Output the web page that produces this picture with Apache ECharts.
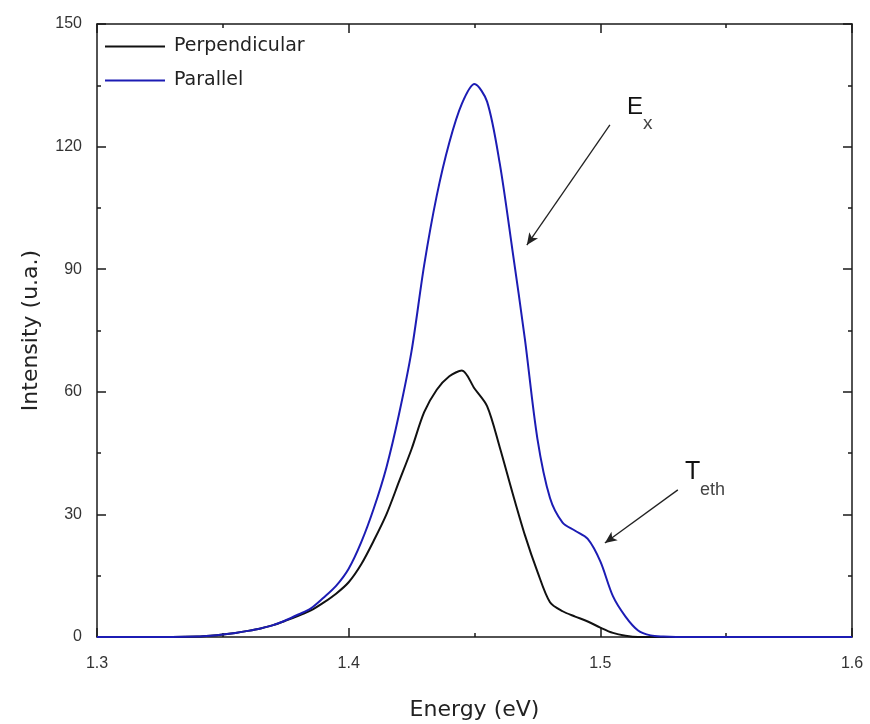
<!DOCTYPE html>
<html>
<head>
<meta charset="utf-8">
<title>Intensity vs Energy</title>
<script src="https://cdn.jsdelivr.net/npm/echarts@6/dist/echarts.min.js"></script>
<style>
  html, body { margin: 0; padding: 0; background: #fff; }
  #chart { width: 870px; height: 724px; }
</style>
</head>
<body>
<div id="chart"></div>
<script>
// energy (eV) sample points
var energy = [1.30, 1.31, 1.32, 1.33, 1.34,
    1.345, 1.35, 1.355, 1.36, 1.365, 1.37, 1.375, 1.38, 1.385, 1.39, 1.395,
    1.40, 1.405, 1.41, 1.415, 1.42, 1.425, 1.43, 1.435, 1.44, 1.445,
    1.45, 1.455, 1.46, 1.465, 1.47, 1.475, 1.48, 1.485, 1.49, 1.495,
    1.50, 1.505, 1.51, 1.515, 1.52, 1.525,
    1.53, 1.54, 1.56, 1.58, 1.60];

var perpendicular = [0, 0, 0, 0, 0.1,
    0.3, 0.6, 1.0, 1.5, 2.1, 2.9, 4.0, 5.2, 6.5, 8.4, 10.6,
    13.4, 17.8, 23.6, 30, 38, 46, 55, 60.5, 63.8, 65.2,
    60.8, 56.5, 46.5, 35.5, 25, 16, 8.5, 6.3, 5.0, 3.8,
    2.3, 1.0, 0.3, 0, 0, 0,
    0, 0, 0, 0, 0];

var parallel = [0, 0, 0, 0, 0.1,
    0.3, 0.6, 1.0, 1.5, 2.1, 2.9, 4.1, 5.5, 7.0, 9.6, 12.5,
    16.7, 23.2, 31.5, 41.5, 54.5, 70, 91, 108, 121, 130.5,
    135.3, 131, 116, 95, 73, 48.5, 34, 28, 26, 24,
    18.5, 10, 5, 1.6, 0.4, 0.1,
    0, 0, 0, 0, 0];

var seriesNames = ['Perpendicular', 'Parallel'];
var xTicks = [1.3, 1.4, 1.5, 1.6];
var yTicks = [0, 30, 60, 90, 120, 150];

// arrows: [from, to] in data coordinates
var arrowEx = [[1.5038, 125.3], [1.4708, 95.9]];
var arrowTeth = [[1.5308, 36], [1.5018, 23]];
// label anchors (top-left of the big letter), data coordinates
var labelEx = [1.5106, 132.5];
var labelTeth = [1.5336, 43.5];

function pairs(xs, ys) {
    var out = [];
    for (var i = 0; i < xs.length; i++) out.push([xs[i], ys[i]]);
    return out;
}

var myChart = echarts.init(document.getElementById('chart'));

var frameLine = { show: true, onZero: false, lineStyle: { color: '#1a1a1a', width: 1.5 } };
var tickIn = { show: true, inside: true, length: 9, lineStyle: { color: '#1a1a1a', width: 1.5 } };
var minorIn = { show: true, splitNumber: 2, length: 4, lineStyle: { color: '#1a1a1a', width: 1.5 } };
var labelFont = { fontFamily: 'Liberation Sans', fontSize: 16, color: '#333' };
var nameFont = { fontFamily: 'DejaVu Sans', fontSize: 22, color: '#222' };

var option = {
    animation: false,
    backgroundColor: '#fff',
    grid: { left: 97, right: 18, top: 24, bottom: 87, outerBoundsMode: 'none' },
    legend: {
        data: seriesNames,
        orient: 'vertical',
        left: 105,
        top: 37,
        padding: 0,
        icon: 'rect',
        itemWidth: 60,
        itemHeight: 2,
        itemGap: 15,
        textStyle: { fontFamily: 'DejaVu Sans', fontSize: 19, color: '#222', padding: [0, 0, 0, 4] }
    },
    xAxis: [{
        type: 'value',
        min: xTicks[0],
        max: xTicks[xTicks.length - 1],
        interval: 0.1,
        name: 'Energy (eV)',
        nameLocation: 'middle',
        nameGap: 62,
        nameTextStyle: nameFont,
        axisLine: frameLine,
        axisTick: tickIn,
        minorTick: minorIn,
        splitLine: { show: false },
        axisLabel: Object.assign({ margin: 19, formatter: function (v) { return v.toFixed(1); } }, labelFont)
    }, {
        type: 'value',
        position: 'top',
        min: xTicks[0],
        max: xTicks[xTicks.length - 1],
        interval: 0.1,
        axisLine: frameLine,
        axisTick: tickIn,
        minorTick: minorIn,
        splitLine: { show: false },
        axisLabel: { show: false }
    }],
    yAxis: [{
        type: 'value',
        min: yTicks[0],
        max: yTicks[yTicks.length - 1],
        interval: 30,
        name: 'Intensity (u.a.)',
        nameLocation: 'middle',
        nameGap: 55,
        nameTextStyle: nameFont,
        axisLine: frameLine,
        axisTick: tickIn,
        minorTick: minorIn,
        splitLine: { show: false },
        axisLabel: Object.assign({ margin: 15 }, labelFont)
    }, {
        type: 'value',
        position: 'right',
        min: yTicks[0],
        max: yTicks[yTicks.length - 1],
        interval: 30,
        axisLine: frameLine,
        axisTick: tickIn,
        minorTick: minorIn,
        splitLine: { show: false },
        axisLabel: { show: false }
    }],
    series: [{
        name: seriesNames[0],
        type: 'line',
        symbol: 'none',
        smooth: 0.3,
        color: '#111',
        lineStyle: { color: '#111', width: 2 },
        data: pairs(energy, perpendicular),
        markLine: {
            silent: true,
            symbol: ['none', 'arrow'],
            symbolSize: [8, 12],
            label: { show: false },
            lineStyle: { color: '#222', width: 1.3, type: 'solid' },
            data: [
                [{ coord: arrowEx[0] }, { coord: arrowEx[1] }],
                [{ coord: arrowTeth[0] }, { coord: arrowTeth[1] }]
            ]
        }
    }, {
        name: seriesNames[1],
        type: 'line',
        symbol: 'none',
        smooth: 0.3,
        color: '#1c1cb4',
        lineStyle: { color: '#1c1cb4', width: 2 },
        data: pairs(energy, parallel)
    }]
};
myChart.setOption(option);

// peak labels: big letter + lowered subscript
function peakLabel(anchor, big, sub, bigSize, subSize, dx, dy) {
    var p = myChart.convertToPixel({ gridIndex: 0 }, anchor);
    return {
        type: 'group',
        x: p[0],
        y: p[1],
        children: [
            { type: 'text', x: 0, y: 0, style: { text: big, fontFamily: 'Liberation Sans', fontSize: bigSize, fill: '#111', verticalAlign: 'top' } },
            { type: 'text', x: dx, y: dy, style: { text: sub, fontFamily: 'Liberation Sans', fontSize: subSize, fill: '#444', verticalAlign: 'top' } }
        ]
    };
}
myChart.setOption({
    graphic: [
        peakLabel(labelEx, 'E', 'x', 24, 19, 16, 19),
        peakLabel(labelTeth, 'T', 'eth', 25, 18, 15, 22)
    ]
});
</script>
</body>
</html>
